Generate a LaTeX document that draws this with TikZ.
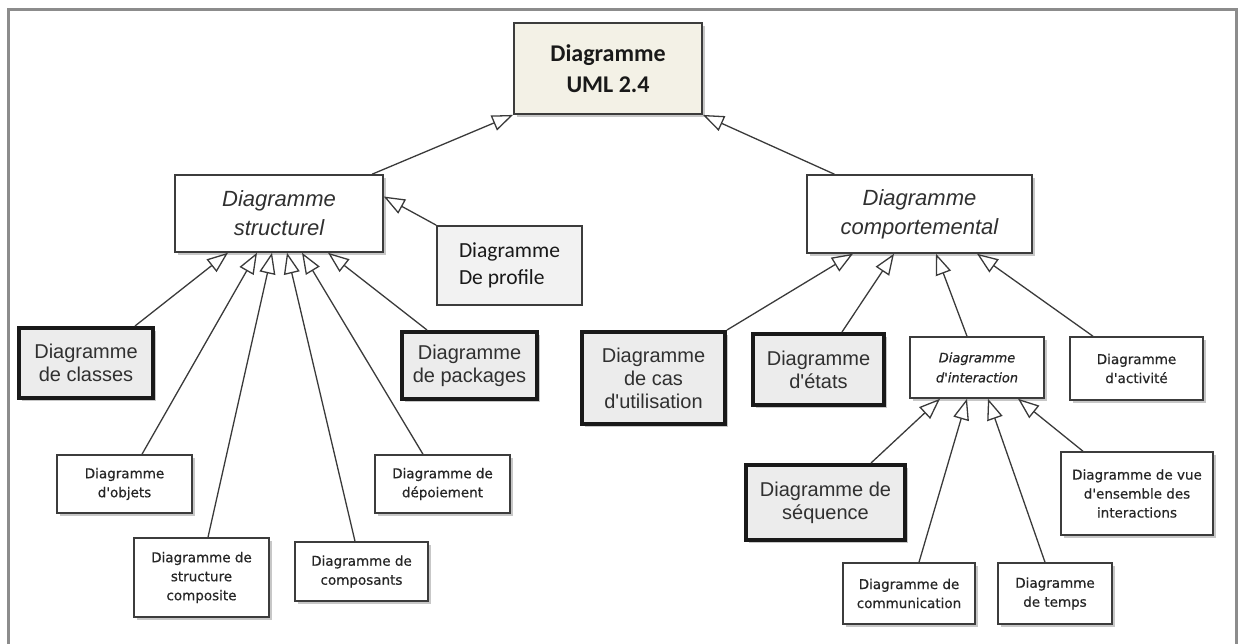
\documentclass[tikz,border=0pt]{standalone}
\usepackage{fontspec}
\setmainfont{Liberation Sans}
\newfontfamily\calibrifont{Carlito}
\newfontfamily\smallsans{DejaVu Sans}[FakeBold=0.5]
\usetikzlibrary{arrows.meta,shadows}

\definecolor{framecol}{HTML}{8C8C8C}
\definecolor{edgecol}{HTML}{3A3A3A}
\definecolor{boxline}{HTML}{3C3C3C}
\definecolor{umlfill}{HTML}{F3F1E6}
\definecolor{greyfill}{HTML}{ECECEC}
\definecolor{textgrey}{HTML}{303030}

\newcommand{\apos}{\textquotesingle}

\begin{document}
\begin{tikzpicture}[x=1pt,y=-1pt,
  size/.style 2 args={minimum width=#1pt, minimum height=#2pt},
  shade/.style={drop shadow={shadow xshift=3pt, shadow yshift=-3pt, fill=black!22, opacity=1}},
  umlbox/.style={draw=boxline, line width=1.8pt, fill=umlfill, shade, inner sep=0pt, align=center,
    font=\calibrifont\bfseries\fontsize{24}{31}\selectfont, text=black!90},
  abstractbox/.style={draw=boxline, line width=1.5pt, fill=white, shade, inner sep=0pt, align=center,
    font=\itshape\fontsize{22}{29}\selectfont, text=textgrey},
  profilebox/.style={draw=boxline, line width=1.8pt, fill=greyfill!70, inner sep=0pt, align=left,
    font=\calibrifont\fontsize{21.5}{27}\selectfont, text=black!90},
  thickbox/.style={draw=black!90, line width=4pt, fill=greyfill, shade, inner sep=0pt, align=center,
    font=\fontsize{20}{23}\selectfont, text=textgrey},
  plainbox/.style={draw=boxline, line width=1.5pt, fill=white, shade, inner sep=0pt, align=center,
    font=\smallsans\fontsize{13.5}{19}\selectfont, text=black!85},
  interbox/.style={plainbox, font=\smallsans\itshape\fontsize{13}{20}\selectfont},
  gen/.style={draw=edgecol, line width=1.3pt, -{Triangle[open, length=21pt, width=16pt, fill=white]}}
]
\useasboundingbox (0,0) rectangle (1240,644);

% outer frame, open at the bottom
\draw[framecol, line width=3pt] (8,644) -- (8,10) -- (1236,10) -- (1236,644);

% root
\node[umlbox, size={188}{91}] (uml) at (608,68.5) {Diagramme\\UML 2.4};

% abstract categories
\node[abstractbox, size={208}{77}] (struct) at (279,213.5) {Diagramme\\structurel};
\node[abstractbox, size={225}{78}] (comp) at (919.5,214) {Diagramme\\comportemental};
\node[profilebox, size={145}{79}] (profile) at (509.5,265.5) {Diagramme\\De profile};

% structural diagrams
\node[thickbox, size={134}{70}] (classes) at (86,363) {Diagramme\\de classes};
\node[thickbox, size={135}{67}] (packages) at (469.5,365.5) {Diagramme\\de packages};
\node[plainbox, size={135}{58}] (objets) at (124.5,484) {Diagramme\\d\apos objets};
\node[plainbox, size={135}{79}] (composite) at (201.5,577.5) {Diagramme de\\structure\\composite};
\node[plainbox, size={133}{59}] (composants) at (361.5,571.5) {Diagramme de\\composants};
\node[plainbox, size={135}{58}] (deploi) at (442.5,484) {Diagramme de\\dépoiement};

% behavioural diagrams
\node[thickbox, size={143}{92}] (cas) at (653.5,378) {Diagramme\\de cas\\d\apos utilisation};
\node[thickbox, size={131}{71}] (etats) at (818.5,369.5) {Diagramme\\d\apos états};
\node[interbox, size={134}{61}] (inter) at (977,367.5) {Diagramme\\d\apos interaction};
\node[plainbox, size={133}{63}] (activ) at (1136.5,368.5) {Diagramme\\d\apos activité};

% interaction diagrams
\node[thickbox, size={159}{75}] (seq) at (825.5,502.5) {Diagramme de\\séquence};
\node[plainbox, size={152}{83}] (vue) at (1137,493.5) {Diagramme de vue\\d\apos ensemble des\\interactions};
\node[plainbox, size={132}{61}] (comm) at (909,593.5) {Diagramme de\\communication};
\node[plainbox, size={114}{61}] (temps) at (1055,593.5) {Diagramme\\de temps};

% generalisations towards the root
\draw[gen] ([xshift=93pt]struct.north) -- (uml.south west);
\draw[gen] ([xshift=-85pt]comp.north) -- (uml.south east);

% generalisations towards the structural category
\draw[gen] (profile.north west) -- ([yshift=17pt]struct.east);
\draw[gen] ([xshift=49pt]classes.north) -- ([xshift=-51pt]struct.south);
\draw[gen] ([xshift=17.5pt]objets.north) -- ([xshift=-22pt]struct.south);
\draw[gen] ([xshift=6.5pt]composite.north) -- ([xshift=-7pt]struct.south);
\draw[gen] ([xshift=-6.5pt]composants.north) -- ([xshift=8pt]struct.south);
\draw[gen] ([xshift=-19.5pt]deploi.north) -- ([xshift=23pt]struct.south);
\draw[gen] ([xshift=-42.5pt]packages.north) -- ([xshift=49pt]struct.south);

% generalisations towards the behavioural category
\draw[gen] (cas.north east) -- ([xshift=-66.5pt]comp.south);
\draw[gen] ([xshift=23.5pt]etats.north) -- ([xshift=-25.5pt]comp.south);
\draw[gen] ([xshift=-10pt]inter.north) -- ([xshift=16.5pt]comp.south);
\draw[gen] ([xshift=-43.5pt]activ.north) -- ([xshift=57.5pt]comp.south);

% generalisations towards the interaction category
\draw[gen] ([xshift=45.5pt]seq.north) -- ([xshift=-37pt]inter.south);
\draw[gen] ([xshift=10pt]comm.north) -- ([xshift=-10pt]inter.south);
\draw[gen] ([xshift=-10pt]temps.north) -- ([xshift=11pt]inter.south);
\draw[gen] ([xshift=-54pt]vue.north) -- ([xshift=41pt]inter.south);
\end{tikzpicture}
\end{document}
